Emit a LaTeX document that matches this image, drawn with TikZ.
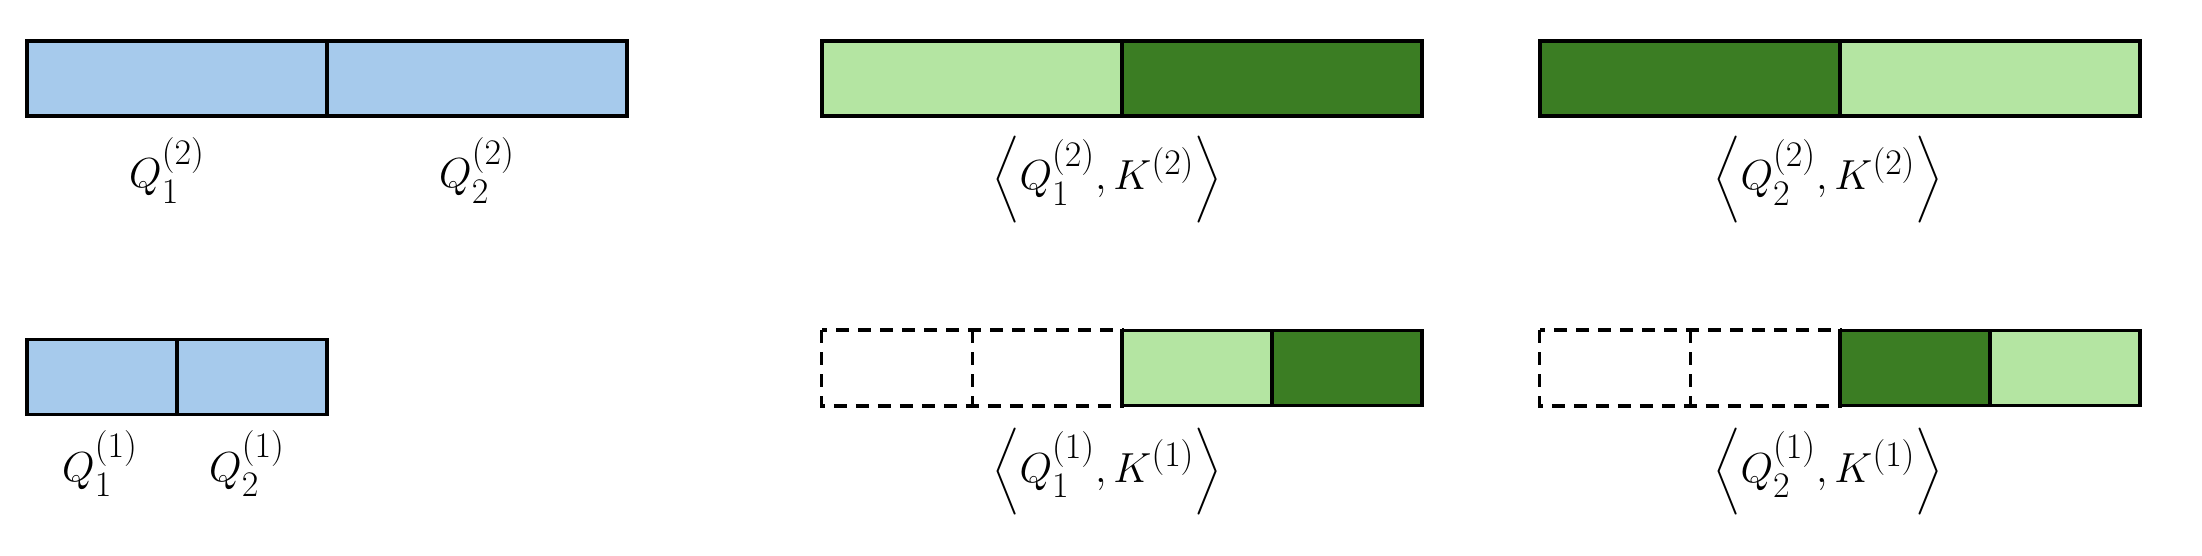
\RequirePackage{fix-cm}
\documentclass[tikz,border=0pt]{standalone}
\usepackage{amsmath}
\usepackage{graphicx}
\definecolor{qblue}{HTML}{A6CAEC}
\definecolor{lgreen}{HTML}{B4E5A2}
\definecolor{dgreen}{HTML}{3B7D23}
\newcommand\myscr[1]{\hbox{\fontsize{18}{18}\selectfont$#1$}}
\newcommand\myQ[2]{Q_{\myscr{#1}}^{\myscr{(#2)}}}
\newcommand\myK[1]{K^{\myscr{(#1)}}}
\newcommand\mylang{\mathopen{\vcenter{\hbox{\resizebox*{!}{44pt}{$\bigg\langle$}}}}}
\newcommand\myrang{\mathclose{\vcenter{\hbox{\resizebox*{!}{44pt}{$\bigg\rangle$}}}}}
\begin{document}
\begin{tikzpicture}[x=0.5pt,y=-0.5pt,
  cell/.style={draw=black, line width=1.65pt, inner sep=0pt, minimum height=37.5pt},
  wide/.style={cell, minimum width=150pt},
  narrow/.style={cell, minimum width=75pt},
  ghost/.style={inner sep=0pt, minimum height=37.5pt, minimum width=75pt},
  dashline/.style={draw=black, line width=1.65pt, dash pattern=on 6.5pt off 4.5pt},
  lbl/.style={inner sep=0pt, anchor=base, font=\fontsize{21}{21}\selectfont}]
\useasboundingbox (0,0) rectangle (2202,556);
% top-left: Q^(2)
\node[wide, fill=qblue] (qa1) at (177,78.5) {};
\node[wide, fill=qblue] (qa2) at (477,78.5) {};
\node[lbl] (lqa1) at (167,188) {$\myQ{1}{2}$};
\node[lbl] (lqa2) at (477,188) {$\myQ{2}{2}$};
% bottom-left: Q^(1)
\node[narrow, fill=qblue] (qb1) at (102,377) {};
\node[narrow, fill=qblue] (qb2) at (252,377) {};
\node[lbl] (lqb1) at (100,481) {$\myQ{1}{1}$};
\node[lbl] (lqb2) at (247,481) {$\myQ{2}{1}$};
% top-middle
\node[wide, fill=lgreen] (ta1) at (972,78.5) {};
\node[wide, fill=dgreen] (ta2) at (1272,78.5) {};
\node[lbl] (lta) at (1107,190) {$\mylang \myQ{1}{2},\myK{2}\myrang$};
% top-right
\node[wide, fill=dgreen] (tb1) at (1690,78.5) {};
\node[wide, fill=lgreen] (tb2) at (1990,78.5) {};
\node[lbl] (ltb) at (1828,190) {$\mylang \myQ{2}{2},\myK{2}\myrang$};
% bottom-middle
\node[ghost] (ba1) at (897,368) {};
\node[ghost] (ba2) at (1047,368) {};
\draw[dashline] (ba1.north west) rectangle (ba2.south east);
\draw[dashline] (ba1.north east) -- (ba1.south east);
\node[narrow, fill=lgreen] (ba3) at (1197,368) {};
\node[narrow, fill=dgreen] (ba4) at (1347,368) {};
\node[lbl] (lba) at (1107,482) {$\mylang \myQ{1}{1},\myK{1}\myrang$};
% bottom-right
\node[ghost] (bb1) at (1615,368) {};
\node[ghost] (bb2) at (1765,368) {};
\draw[dashline] (bb1.north west) rectangle (bb2.south east);
\draw[dashline] (bb1.north east) -- (bb1.south east);
\node[narrow, fill=dgreen] (bb3) at (1915,368) {};
\node[narrow, fill=lgreen] (bb4) at (2065,368) {};
\node[lbl] (lbb) at (1828,482) {$\mylang \myQ{2}{1},\myK{1}\myrang$};
\end{tikzpicture}
\end{document}
